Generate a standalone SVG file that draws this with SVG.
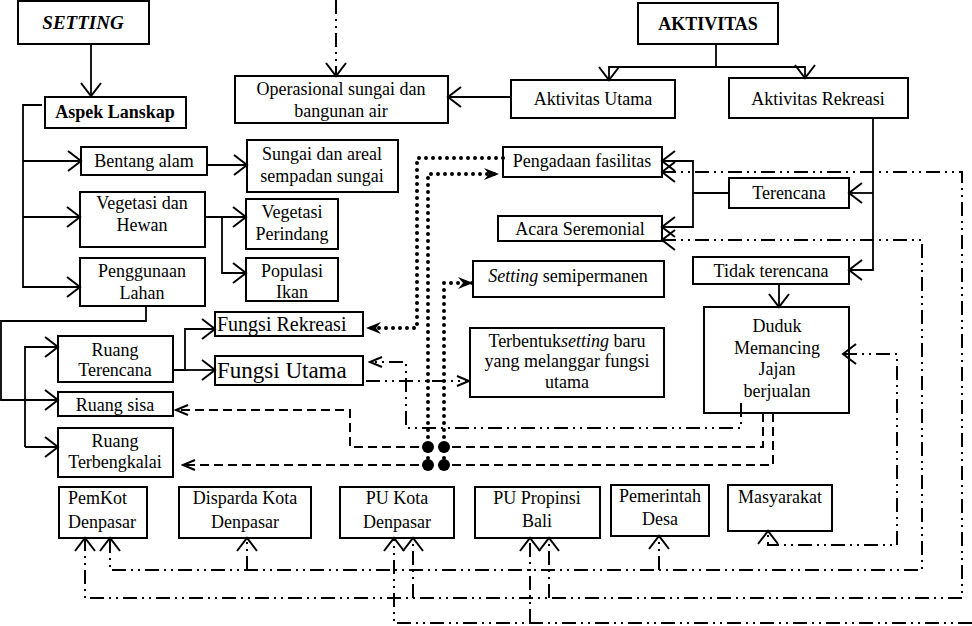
<svg xmlns="http://www.w3.org/2000/svg" width="972" height="626" viewBox="0 0 972 626">
<style>
.box{fill:#fff;stroke:#000;stroke-width:2}
text{font-family:"Liberation Serif","Times New Roman",serif;font-size:18px;fill:#000;text-anchor:middle}
.b{font-weight:bold}
.l{text-anchor:start}
.t19{font-size:19px}
.t20{font-size:20px}
.t23{font-size:23px}
.i{font-style:italic}
.solid{fill:none;stroke:#000;stroke-width:1.8}
.dot{fill:none;stroke:#000;stroke-width:4;stroke-linecap:round;stroke-dasharray:0 7}
.dash{fill:none;stroke:#000;stroke-width:2;stroke-dasharray:9 5}
.dd{fill:none;stroke:#000;stroke-width:2;stroke-dasharray:14 5 2 5 2 5}
</style>
<defs>
<marker id="a" viewBox="-15 -12 18 24" refX="0" refY="0" markerWidth="18" markerHeight="24" markerUnits="userSpaceOnUse" orient="auto-start-reverse"><path d="M-13,-10 L0,0 L-13,10" fill="none" stroke="#000" stroke-width="2"/></marker>
<marker id="s" viewBox="-14 -8 16 16" refX="0" refY="0" markerWidth="16" markerHeight="16" markerUnits="userSpaceOnUse" orient="auto-start-reverse"><path d="M-12,-5 L0,0 L-12,5" fill="none" stroke="#000" stroke-width="2"/></marker>
<marker id="f" viewBox="-16 -8 18 16" refX="0" refY="0" markerWidth="18" markerHeight="16" markerUnits="userSpaceOnUse" orient="auto-start-reverse"><path d="M-15,-6 L0,0 L-15,6 L-10,0 Z" fill="#000"/></marker>
</defs>

<g id="setting"><rect class="box" x="18" y="1" width="131" height="43"/><text x="83" y="29" class="b i t19">SETTING</text></g>
<g id="aspek-lanskap"><rect class="box" x="45" y="97" width="141" height="31"/><text x="115" y="118" class="b">Aspek Lanskap</text></g>
<g id="operasional"><rect class="box" x="235" y="76" width="213" height="47"/><text x="341" y="95">Operasional sungai dan</text><text x="341" y="117">bangunan air</text></g>
<g id="aktivitas"><rect class="box" x="638" y="3" width="140" height="41"/><text x="708" y="30" class="b">AKTIVITAS</text></g>
<g id="aktivitas-utama"><rect class="box" x="511" y="80" width="164" height="38"/><text x="593" y="105">Aktivitas Utama</text></g>
<g id="aktivitas-rekreasi"><rect class="box" x="729" y="78" width="179" height="40"/><text x="818" y="105">Aktivitas Rekreasi</text></g>
<g id="bentang-alam"><rect class="box" x="81" y="147" width="126" height="28"/><text x="144" y="167">Bentang alam</text></g>
<g id="sungai"><rect class="box" x="247" y="140" width="151" height="52"/><text x="322" y="160">Sungai dan areal</text><text x="322" y="182">sempadan sungai</text></g>
<g id="pengadaan"><rect class="box" x="503" y="147" width="159" height="30"/><text x="582" y="167">Pengadaan fasilitas</text></g>
<g id="terencana"><rect class="box" x="729" y="178" width="120" height="30"/><text x="789" y="199">Terencana</text></g>
<g id="vegetasi-hewan"><rect class="box" x="80" y="192" width="125" height="55"/><text x="142" y="209">Vegetasi dan</text><text x="142" y="231">Hewan</text></g>
<g id="vegetasi-perindang"><rect class="box" x="246" y="199" width="92" height="50"/><text x="292" y="218">Vegetasi</text><text x="292" y="240">Perindang</text></g>
<g id="acara"><rect class="box" x="498" y="216" width="164" height="25"/><text x="580" y="235">Acara Seremonial</text></g>
<g id="tidak-terencana"><rect class="box" x="693" y="257" width="156" height="27"/><text x="771" y="277">Tidak terencana</text></g>
<g id="populasi"><rect class="box" x="246" y="258" width="92" height="43"/><text x="292" y="277">Populasi</text><text x="292" y="298">Ikan</text></g>
<g id="penggunaan"><rect class="box" x="80" y="258" width="125" height="48"/><text x="142" y="277">Penggunaan</text><text x="142" y="299">Lahan</text></g>
<g id="semipermanen"><rect class="box" x="473" y="261" width="191" height="36"/><text x="568" y="282"><tspan class="i">Setting</tspan> semipermanen</text></g>
<g id="fungsi-rekreasi"><rect class="box" x="215" y="312" width="148" height="24"/><text x="217" y="331" class="l t20">Fungsi Rekreasi</text></g>
<g id="ruang-terencana"><rect class="box" x="58" y="336" width="115" height="46"/><text x="115" y="356">Ruang</text><text x="115" y="376">Terencana</text></g>
<g id="fungsi-utama"><rect class="box" x="215" y="356" width="148" height="29"/><text x="217" y="378" class="l t23">Fungsi Utama</text></g>
<g id="terbentuk"><rect class="box" x="470" y="328" width="194" height="69"/><text x="567" y="347">Terbentuk<tspan class="i">setting</tspan> baru</text><text x="567" y="367">yang melanggar fungsi</text><text x="567" y="388">utama</text></g>
<g id="duduk"><rect class="box" x="704" y="307" width="145" height="106"/><text x="777" y="332">Duduk</text><text x="777" y="354">Memancing</text><text x="777" y="375">Jajan</text><text x="777" y="397">berjualan</text></g>
<g id="ruang-sisa"><rect class="box" x="58" y="392" width="115" height="24"/><text x="115" y="411">Ruang sisa</text></g>
<g id="ruang-terbengkalai"><rect class="box" x="58" y="428" width="115" height="49"/><text x="115" y="447">Ruang</text><text x="115" y="468">Terbengkalai</text></g>
<g id="pemkot"><rect class="box" x="59" y="487" width="88" height="51"/><text x="68" y="504" class="l">PemKot</text><text x="68" y="528" class="l">Denpasar</text></g>
<g id="disparda"><rect class="box" x="179" y="487" width="132" height="51"/><text x="245" y="504">Disparda Kota</text><text x="245" y="528">Denpasar</text></g>
<g id="pu-kota"><rect class="box" x="340" y="487" width="114" height="51"/><text x="397" y="504">PU Kota</text><text x="397" y="528">Denpasar</text></g>
<g id="pu-propinsi"><rect class="box" x="475" y="487" width="125" height="51"/><text x="537" y="504">PU Propinsi</text><text x="537" y="527">Bali</text></g>
<g id="pemerintah-desa"><rect class="box" x="611" y="485" width="98" height="51"/><text x="660" y="502">Pemerintah</text><text x="660" y="525">Desa</text></g>
<g id="masyarakat"><rect class="box" x="728" y="485" width="104" height="46"/><text x="780" y="503">Masyarakat</text></g>

<g id="connectors">
<path class="solid" d="M91,44 V96" marker-end="url(#a)"/>
<path class="solid" d="M42,105 H23 V287 H80" marker-end="url(#a)"/>
<path class="solid" d="M23,161 H81" marker-end="url(#a)"/>
<path class="solid" d="M23,217 H80" marker-end="url(#a)"/>
<path class="solid" d="M207,165 H247" marker-end="url(#a)"/>
<path class="solid" d="M205,217 H246" marker-end="url(#a)"/>
<path class="solid" d="M222,217 V273 H246" marker-end="url(#a)"/>
<path class="solid" d="M146,306 V321 H1 V400 H58" marker-end="url(#a)"/>
<path class="solid" d="M25,447 V347 H58" marker-end="url(#a)"/>
<path class="solid" d="M25,447 H58" marker-end="url(#a)"/>
<path class="solid" d="M173,370 H185 V329 H215" marker-end="url(#a)"/>
<path class="solid" d="M185,370 H215" marker-end="url(#a)"/>
<path class="solid" d="M511,97 H448" marker-end="url(#a)"/>
<path class="solid" d="M716,44 V67"/>
<path class="solid" d="M805,67 H609 V80" marker-end="url(#a)"/>
<path class="solid" d="M716,67 H805 V78" marker-end="url(#a)"/>
<path class="solid" d="M873,118 V270 H849" marker-end="url(#a)"/>
<path class="solid" d="M873,193 H849" marker-end="url(#a)"/>
<path class="solid" d="M729,193 H693 V161 H662" marker-end="url(#a)"/>
<path class="solid" d="M693,193 V227 H662" marker-end="url(#a)"/>
<path class="solid" d="M779,284 V307" marker-end="url(#a)"/>
<path class="dot" d="M503,158 H417 V328 H366" marker-end="url(#f)"/>
<path class="dot" d="M428,465 V174 H499" marker-end="url(#f)"/>
<path class="dot" d="M444,465 V283 H473" marker-end="url(#f)"/>
<path class="dash" d="M763,413 V447 H350 V410 H176" marker-end="url(#s)"/>
<path class="dash" d="M773,413 V465 H183" marker-end="url(#s)"/>
<circle cx="428" cy="447" r="6"/><circle cx="444" cy="447" r="6"/>
<circle cx="428" cy="465" r="6"/><circle cx="444" cy="465" r="6"/>
<path class="dd" d="M336,0 V76" marker-end="url(#a)"/>
<path class="dd" d="M741,403 V428 H406 V362 H370" marker-end="url(#s)"/>
<path class="dd" d="M366,381 H469" marker-end="url(#s)"/>
<path class="dd" d="M662,172 H962 V598 H85 V538" marker-start="url(#a)" marker-end="url(#a)"/>
<path class="dd" d="M413,598 V538" marker-end="url(#a)"/>
<path class="dd" d="M549,598 V538" marker-end="url(#a)"/>
<path class="dd" d="M662,240 H922 V570 H110 V538" marker-start="url(#a)" marker-end="url(#a)"/>
<path class="dd" d="M247,570 V538" marker-end="url(#a)"/>
<path class="dd" d="M659,570 V536" marker-end="url(#a)"/>
<path class="dd" d="M843,354 H897 V545 H768 V531" marker-start="url(#a)" marker-end="url(#a)"/>
<path class="dd" d="M972,623 H394 V538" marker-end="url(#a)"/>
<path class="dd" d="M530,623 V538" marker-end="url(#a)"/>
</g>
</svg>
